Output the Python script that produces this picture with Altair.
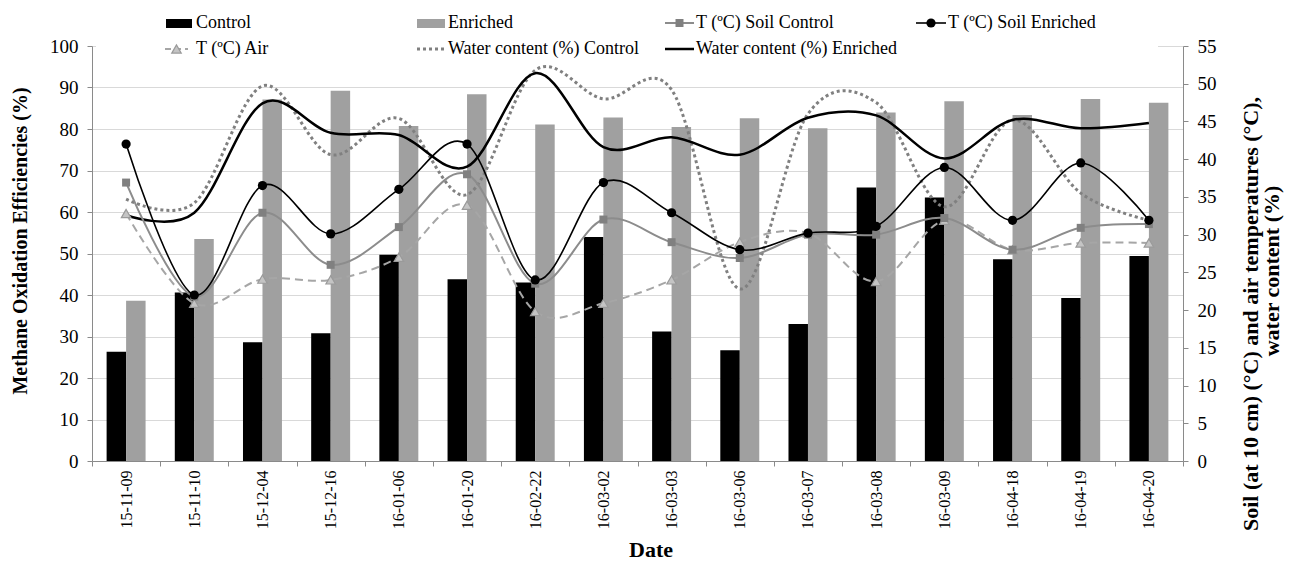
import altair as alt
import pandas as pd

# ---------------- data ----------------
dates = ["15-11-09", "15-11-10", "15-12-04", "15-12-16", "16-01-06", "16-01-20",
         "16-02-22", "16-03-02", "16-03-03", "16-03-06", "16-03-07", "16-03-08",
         "16-03-09", "16-04-18", "16-04-19", "16-04-20"]

eff_control = [26.3, 40.6, 28.6, 30.8, 49.7, 43.8, 43.0, 54.0, 31.2, 26.7, 33.0, 65.9,
               63.5, 48.6, 39.3, 49.4]
eff_enriched = [38.6, 53.5, 87.1, 89.2, 80.7, 88.4, 81.1, 82.8, 80.5, 82.6, 80.2, 84.0,
                86.7, 83.4, 87.2, 86.3]

t_soil_control = [36.9, 21.8, 32.9, 26.0, 31.0, 38.0, 23.5, 32.0, 29.0, 26.9, 30.0, 30.0,
                  32.2, 28.0, 30.9, 31.4]
t_soil_enriched = [42.0, 22.0, 36.5, 30.1, 36.0, 42.0, 24.0, 36.9, 32.9, 28.0, 30.2, 31.1,
                   38.9, 31.9, 39.5, 31.9]
t_air = [32.8, 20.9, 24.1, 24.0, 27.0, 33.9, 19.8, 20.9, 24.0, 29.0, 30.2, 23.8,
         31.9, 28.0, 28.9, 28.9]
wc_control = [34.7, 34.2, 49.7, 40.6, 45.4, 35.3, 51.8, 48.0, 49.2, 22.8, 46.0, 47.5,
              33.7, 45.2, 35.5, 31.9]
wc_enriched = [32.6, 32.9, 47.4, 43.5, 43.2, 39.0, 51.4, 41.6, 42.9, 40.6, 45.5, 45.8,
               40.1, 45.2, 44.1, 44.8]

bar_series = ["Control", "Enriched"]
legend_labels = ["Control", "Enriched", "T (ºC) Soil  Control", "T (ºC) Soil Enriched",
                 "T (ºC) Air", "Water content (%) Control", "Water content (%) Enriched"]
left_title = "Methane Oxidation Efficiencies  (%)"
right_title = ["Soil (at 10 cm) (°C) and air temperatures (°C),", "water content (%)"]
x_title = "Date"

# ---------------- style ----------------
FONT = "Liberation Serif"
W, H = 1091, 415
AXC = "#8a8a8a"
BLACK = "#000000"
BARGRAY = "#a0a0a0"

x_enc = alt.X(
    "date:N", sort=dates,
    scale=alt.Scale(paddingInner=0, paddingOuter=0),
    axis=alt.Axis(title=None, labelAngle=270, labelFont=FONT, labelFontSize=16,
                  labelColor="black", tickBand="extent", tickSize=5, tickColor=AXC,
                  domainColor=AXC, labelPadding=4, grid=False),
)

bar_df = pd.DataFrame({
    "date": dates * 2,
    "series": [bar_series[0]] * len(dates) + [bar_series[1]] * len(dates),
    "value": eff_control + eff_enriched,
})

bars = alt.Chart(bar_df).mark_bar().encode(
    x=x_enc,
    xOffset=alt.XOffset("series:N", sort=bar_series,
                        scale=alt.Scale(paddingInner=0, paddingOuter=0.75)),
    y=alt.Y("value:Q", scale=alt.Scale(domain=[0, 100], nice=False),
            axis=alt.Axis(title=None, values=list(range(0, 101, 10)), labelFont=FONT,
                          labelFontSize=19, labelColor="black", tickSize=5, tickColor=AXC,
                          domainColor=AXC, gridColor="#d9d9d9", grid=True, labelPadding=9)),
    color=alt.Color("series:N", scale=alt.Scale(domain=bar_series, range=[BLACK, BARGRAY]),
                    legend=None),
)

y2 = alt.Y("value:Q", scale=alt.Scale(domain=[0, 55], nice=False),
           axis=alt.Axis(title=None, orient="right", values=list(range(0, 56, 5)),
                         labelFont=FONT, labelFontSize=19, labelColor="black", tickSize=5,
                         tickColor=AXC, domainColor=AXC, grid=False, labelPadding=9))


def df_of(vals):
    return pd.DataFrame({"date": dates, "value": vals})


def line(vals, color, width, dash=None):
    kw = dict(color=color, strokeWidth=width, interpolate="cardinal", tension=0)
    if dash:
        kw["strokeDash"] = dash
    return alt.Chart(df_of(vals)).mark_line(**kw).encode(x=x_enc, y=y2)


def pts(vals, shape, size, fill, stroke=None, sw=0):
    kw = dict(shape=shape, size=size, filled=True, fill=fill, opacity=1)
    if stroke:
        kw.update(stroke=stroke, strokeWidth=sw)
    return alt.Chart(df_of(vals)).mark_point(**kw).encode(x=x_enc, y=y2)


lines = alt.layer(
    line(wc_control, "#808080", 3, [3, 3]),
    line(wc_enriched, BLACK, 2.5),
    line(t_air, "#a6a6a6", 2, [8, 5]),
    pts(t_air, "triangle-up", 90, "#c4c4c4", "#9a9a9a", 1.2),
    line(t_soil_control, "#8c8c8c", 2),
    pts(t_soil_control, "square", 64, "#808080"),
    line(t_soil_enriched, BLACK, 1.6),
    pts(t_soil_enriched, "circle", 85, BLACK),
)

# ---------------- legend and titles (decoration) ----------------
one = pd.DataFrame({"k": [0]})


def txt(s, x, y, size, bold=False, angle=0, align="left"):
    kw = dict(text=s, font=FONT, fontSize=size, fontWeight="bold" if bold else "normal",
              color="black", align=align, baseline="middle")
    if angle:
        kw["angle"] = angle
    return alt.Chart(one).mark_text(**kw).encode(x=alt.value(x), y=alt.value(y))


def rect(x1, x2, y1, y2_, color):
    return alt.Chart(one).mark_rect(color=color).encode(
        x=alt.value(x1), x2=alt.value(x2), y=alt.value(y1), y2=alt.value(y2_))


def seg(x1, x2, y, color, width, dash=None):
    kw = dict(color=color, strokeWidth=width)
    if dash:
        kw["strokeDash"] = dash
    return alt.Chart(one).mark_rule(**kw).encode(x=alt.value(x1), x2=alt.value(x2), y=alt.value(y))


def dot(x, y, shape, size, fill, stroke=None, sw=0):
    kw = dict(shape=shape, size=size, filled=True, fill=fill, opacity=1)
    if stroke:
        kw.update(stroke=stroke, strokeWidth=sw)
    return alt.Chart(one).mark_point(**kw).encode(x=alt.value(x), y=alt.value(y))


R1, R2 = -23, 3
LF = 18
deco = [
    rect(4, 1066, -38, 12, "white"),
    rect(74, 100, -27, -18, BLACK), txt(legend_labels[0], 104, R1, LF),
    rect(325, 353, -27, -18, BARGRAY), txt(legend_labels[1], 356, R1, LF),
    seg(573, 602, R1, "#8c8c8c", 2), dot(587.5, R1, "square", 64, "#808080"),
    txt(legend_labels[2], 604, R1, LF),
    seg(824, 854, R1, BLACK, 1.6), dot(839, R1, "circle", 85, BLACK),
    txt(legend_labels[3], 856, R1, LF),
    seg(73, 96, R2, "#a6a6a6", 2, [6, 4]), dot(84.5, R2, "triangle-up", 90, "#c4c4c4", "#9a9a9a", 1.2),
    txt(legend_labels[4], 104, R2, LF),
    seg(325, 353, R2, "#808080", 3, [3, 3]), txt(legend_labels[5], 356, R2, LF),
    seg(573, 602, R2, BLACK, 2.5), txt(legend_labels[6], 604, R2, LF),
    txt(left_title, -71, 195, 20, bold=True, angle=270, align="center"),
    txt(right_title[0], 1159, 268, 22, bold=True, angle=270, align="center"),
    txt(right_title[1], 1180, 225, 22, bold=True, angle=270, align="center"),
    txt(x_title, 559, 504, 22, bold=True, align="center"),
]

chart = alt.layer(bars, lines, *deco).resolve_scale(y="independent").properties(
    width=W, height=H,
    autosize=alt.AutoSizeParams(type="none"),
    padding={"left": 84, "top": 38, "right": 101, "bottom": 104},
).configure_view(stroke=None)

chart.save("out.html", embed_options={"renderer": "svg", "actions": False})
